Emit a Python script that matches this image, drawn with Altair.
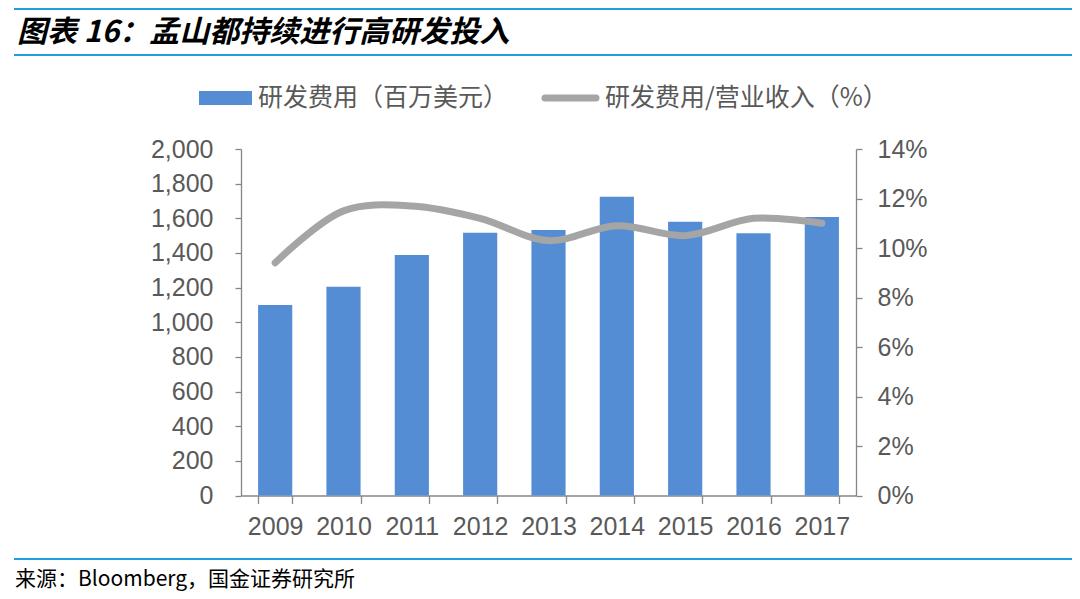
import altair as alt
import pandas as pd

# ---- data ----
years = ["2009", "2010", "2011", "2012", "2013", "2014", "2015", "2016", "2017"]
rd_expense = [1100, 1205, 1388, 1517, 1532, 1725, 1580, 1513, 1607]   # 百万美元
rd_ratio = [9.4, 11.5, 11.7, 11.2, 10.3, 10.9, 10.5, 11.2, 11.0]      # %
left_ticks = [0, 200, 400, 600, 800, 1000, 1200, 1400, 1600, 1800, 2000]
right_ticks = [0, 2, 4, 6, 8, 10, 12, 14]

title_text = "图表 16：孟山都持续进行高研发投入"
legend_bar_text = "研发费用（百万美元）"
legend_line_text = "研发费用/营业收入（%）"
source_text = "来源：Bloomberg，国金证券研究所"

BAR = "#548DD4"
LINE = "#A5A5A5"
BLUE = "#1E9FE0"
AXIS = "#868686"
LABEL = "#595959"

df = pd.DataFrame({"year": years, "rd": rd_expense, "ratio": rd_ratio})
one = pd.DataFrame({"k": [0]})

x_enc = alt.X(
    "year:N", sort=years, title=None,
    scale=alt.Scale(paddingInner=0.5, paddingOuter=0.25),
    axis=alt.Axis(labelAngle=0, tickBand="extent", tickSize=8, labelPadding=11),
)

bars = alt.Chart(df).mark_bar(color=BAR).encode(
    x=x_enc,
    y=alt.Y("rd:Q", title=None,
            scale=alt.Scale(domain=[0, 2000], nice=False),
            axis=alt.Axis(orient="left", values=left_ticks, format=",.0f",
                          tickSize=6, labelPadding=22)),
)

line = alt.Chart(df).mark_line(
    color=LINE, strokeWidth=7, interpolate="catmull-rom", strokeCap="round"
).encode(
    x=x_enc,
    y=alt.Y("ratio:Q", title=None,
            scale=alt.Scale(domain=[0, 14], nice=False),
            axis=alt.Axis(orient="right", values=right_ticks,
                          labelExpr="datum.value + '%'",
                          tickSize=6, labelPadding=15)),
)

title_mark = alt.Chart(one).mark_text(
    text=title_text, align="left", baseline="middle",
    font="Noto Sans CJK SC", fontSize=30, fontWeight="bold", fontStyle="italic",
    color="#000000",
).encode(x=alt.value(-224), y=alt.value(-116))

top_rule = alt.Chart(one).mark_rule(color=BLUE, strokeWidth=2).encode(
    x=alt.value(-227), x2=alt.value(831), y=alt.value(-140))
title_rule = alt.Chart(one).mark_rule(color=BLUE, strokeWidth=2).encode(
    x=alt.value(-227), x2=alt.value(831), y=alt.value(-94))
bottom_rule = alt.Chart(one).mark_rule(color=BLUE, strokeWidth=2).encode(
    x=alt.value(-227), x2=alt.value(831), y=alt.value(410))

leg_rect = alt.Chart(one).mark_rect(color=BAR).encode(
    x=alt.value(-42), x2=alt.value(11), y=alt.value(-58), y2=alt.value(-44))
leg_text1 = alt.Chart(one).mark_text(
    text=legend_bar_text, align="left", baseline="middle",
    font="Noto Sans CJK SC", fontSize=25, color=LABEL,
).encode(x=alt.value(17), y=alt.value(-51))
leg_line = alt.Chart(one).mark_rule(color=LINE, strokeWidth=7, strokeCap="round").encode(
    x=alt.value(304), x2=alt.value(355), y=alt.value(-51))
leg_text2 = alt.Chart(one).mark_text(
    text=legend_line_text, align="left", baseline="middle",
    font="Noto Sans CJK SC", fontSize=25, color=LABEL,
).encode(x=alt.value(364), y=alt.value(-51))

source_mark = alt.Chart(one).mark_text(
    text=source_text, align="left", baseline="middle",
    font="Noto Sans CJK SC", fontSize=21, color="#000000",
).encode(x=alt.value(-226), y=alt.value(431))

chart = alt.layer(
    bars, line, title_mark, top_rule, title_rule, bottom_rule,
    leg_rect, leg_text1, leg_line, leg_text2, source_mark,
).resolve_scale(y="independent").properties(
    width=615, height=346.5,
    padding={"left": 233, "top": 141, "right": 216, "bottom": 95},
    autosize=alt.AutoSizeParams(type="none"),
).configure_view(stroke=None).configure_axis(
    grid=False, domainColor=AXIS, tickColor=AXIS, domainWidth=1.3, tickWidth=1.3,
    labelColor=LABEL, labelFont="Liberation Sans", labelFontSize=25,
)

chart.save("out.html", embed_options={"renderer": "svg", "actions": False})
